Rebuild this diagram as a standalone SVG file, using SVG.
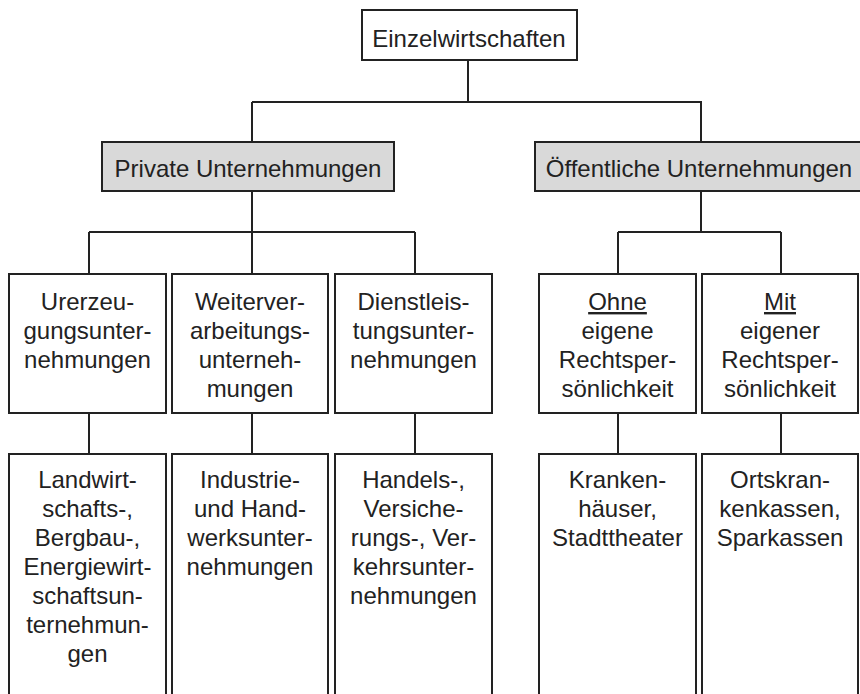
<svg xmlns="http://www.w3.org/2000/svg" width="860" height="694" viewBox="0 0 860 694">
<style>
.box{fill:#ffffff;stroke:#222;stroke-width:2}
.grey{fill:#d9d9d9;stroke:#222;stroke-width:2}
.t{font-family:"Liberation Sans",Arial,sans-serif;font-size:24px;fill:#222;text-anchor:middle}
.c{fill:none;stroke:#222;stroke-width:2}
.u{text-decoration:underline}
</style>
<rect width="860" height="694" fill="#ffffff"/>
<g id="connectors">
<path class="c" d="M468,60V102M252,102H702M252,102V142M701,102V142"/>
<path class="c" d="M252,191V232M89,232H415M89,232V274M252,232V274M415,232V274"/>
<path class="c" d="M701,191V232M618,232H781M618,232V274M781,232V274"/>
<path class="c" d="M89,413V454M252,413V454M415,413V454M618,413V454M781,413V454"/>
</g>
<g id="einzelwirtschaften">
<rect class="box" x="362" y="10" width="215" height="50"/>
<text class="t" x="469" y="47">Einzelwirtschaften</text>
</g>
<g id="private">
<rect class="grey" x="102" y="142" width="292" height="49"/>
<text class="t" x="248" y="177">Private Unternehmungen</text>
</g>
<g id="oeffentliche">
<rect class="grey" x="535" y="142" width="330" height="49"/>
<text class="t" x="699" y="177">Öffentliche Unternehmungen</text>
</g>
<g id="urerzeugung">
<rect class="box" x="9" y="274" width="157" height="139"/>
<text class="t" x="87.5" y="310">Urerzeu-<tspan x="87.5" dy="29">gungsunter-</tspan><tspan x="87.5" dy="29">nehmungen</tspan></text>
</g>
<g id="weiterverarbeitung">
<rect class="box" x="172" y="274" width="156" height="139"/>
<text class="t" x="250" y="310">Weiterver-<tspan x="250" dy="29">arbeitungs-</tspan><tspan x="250" dy="29">unterneh-</tspan><tspan x="250" dy="29">mungen</tspan></text>
</g>
<g id="dienstleistung">
<rect class="box" x="335" y="274" width="157" height="139"/>
<text class="t" x="413.5" y="310">Dienstleis-<tspan x="413.5" dy="29">tungsunter-</tspan><tspan x="413.5" dy="29">nehmungen</tspan></text>
</g>
<g id="ohne">
<rect class="box" x="539" y="274" width="157" height="139"/>
<text class="t" x="617.5" y="310"><tspan class="u">Ohne</tspan><tspan x="617.5" dy="29">eigene</tspan><tspan x="617.5" dy="29">Rechtsper-</tspan><tspan x="617.5" dy="29">sönlichkeit</tspan></text>
</g>
<g id="mit">
<rect class="box" x="702" y="274" width="156" height="139"/>
<text class="t" x="780" y="310"><tspan class="u">Mit</tspan><tspan x="780" dy="29">eigener</tspan><tspan x="780" dy="29">Rechtsper-</tspan><tspan x="780" dy="29">sönlichkeit</tspan></text>
</g>
<g id="landwirtschaft">
<rect class="box" x="9" y="454" width="157" height="260"/>
<text class="t" x="87.5" y="488">Landwirt-<tspan x="87.5" dy="29">schafts-,</tspan><tspan x="87.5" dy="29">Bergbau-,</tspan><tspan x="87.5" dy="29">Energiewirt-</tspan><tspan x="87.5" dy="29">schaftsun-</tspan><tspan x="87.5" dy="29">ternehmun-</tspan><tspan x="87.5" dy="29">gen</tspan></text>
</g>
<g id="industrie">
<rect class="box" x="172" y="454" width="156" height="260"/>
<text class="t" x="250" y="488">Industrie-<tspan x="250" dy="29">und Hand-</tspan><tspan x="250" dy="29">werksunter-</tspan><tspan x="250" dy="29">nehmungen</tspan></text>
</g>
<g id="handel">
<rect class="box" x="335" y="454" width="157" height="260"/>
<text class="t" x="413.5" y="488">Handels-,<tspan x="413.5" dy="29">Versiche-</tspan><tspan x="413.5" dy="29">rungs-, Ver-</tspan><tspan x="413.5" dy="29">kehrsunter-</tspan><tspan x="413.5" dy="29">nehmungen</tspan></text>
</g>
<g id="krankenhaeuser">
<rect class="box" x="539" y="454" width="157" height="260"/>
<text class="t" x="617.5" y="488">Kranken-<tspan x="617.5" dy="29">häuser,</tspan><tspan x="617.5" dy="29">Stadttheater</tspan></text>
</g>
<g id="ortskrankenkassen">
<rect class="box" x="702" y="454" width="156" height="260"/>
<text class="t" x="780" y="488">Ortskran-<tspan x="780" dy="29">kenkassen,</tspan><tspan x="780" dy="29">Sparkassen</tspan></text>
</g>
</svg>
